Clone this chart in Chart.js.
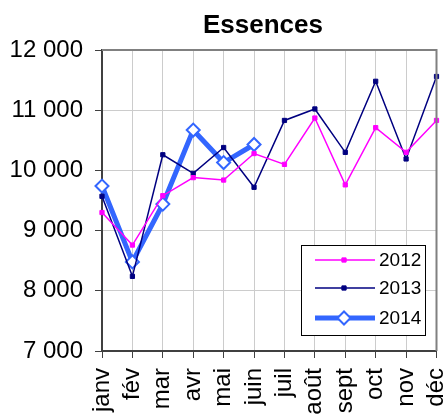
<!DOCTYPE html>
<html>
<head>
<meta charset="utf-8">
<script src="https://cdn.jsdelivr.net/npm/chart.js@4"></script>
<style>
  html, body { margin: 0; padding: 0; background: #fff; }
  canvas { display: block; }
</style>
</head>
<body>
<canvas id="essences" width="445" height="414"></canvas>
<script>
const months = ['janv', 'fév', 'mar', 'avr', 'mai', 'juin', 'juil', 'août', 'sept', 'oct', 'nov', 'déc'];
const values2012 = [9300, 8760, 9580, 9880, 9840, 10280, 10100, 10870, 9760, 10710, 10300, 10830];
const values2013 = [9570, 8240, 10260, 9950, 10380, 9720, 10830, 11020, 10300, 11480, 10190, 11560];
const values2014 = [9740, 8480, 9440, 10670, 10130, 10430];
const yTicks = [7000, 8000, 9000, 10000, 11000, 12000];

const FONT = "'Liberation Sans', Arial, sans-serif";

// title, plot frame and the boxed legend inside the plot
const decor = {
    id: 'decor',
    afterDraw(chart) {
        const ctx = chart.ctx;
        const area = chart.chartArea;
        ctx.save();

        ctx.fillStyle = '#000';
        ctx.font = 'bold 26px ' + FONT;
        ctx.textAlign = 'center';
        ctx.textBaseline = 'middle';
        ctx.fillText('Essences', 263, 26);

        ctx.strokeStyle = '#808080';
        ctx.lineWidth = 2;
        ctx.beginPath();
        ctx.moveTo(area.left, area.top);
        ctx.lineTo(area.right, area.top);
        ctx.lineTo(area.right, area.bottom);
        ctx.stroke();

        const box = { x: 301, y: 245, w: 124, h: 90 };
        ctx.fillStyle = '#fff';
        ctx.fillRect(box.x, box.y, box.w, box.h);
        ctx.strokeStyle = '#000';
        ctx.lineWidth = 1;
        ctx.strokeRect(box.x + 0.5, box.y + 0.5, box.w, box.h);

        const rows = [260, 288, 318];
        chart.data.datasets.forEach((ds, i) => {
            const y = rows[i];
            ctx.strokeStyle = ds.borderColor;
            ctx.lineWidth = ds.borderWidth;
            ctx.beginPath();
            ctx.moveTo(315, y);
            ctx.lineTo(375, y);
            ctx.stroke();
            ctx.fillStyle = ds.pointBackgroundColor;
            ctx.strokeStyle = ds.pointBorderColor;
            ctx.lineWidth = ds.pointBorderWidth;
            Chart.helpers.drawPoint(ctx, {
                pointStyle: ds.pointStyle,
                radius: ds.pointRadius,
                borderWidth: ds.pointBorderWidth
            }, 344, y);
            ctx.fillStyle = '#000';
            ctx.font = '19px ' + FONT;
            ctx.textAlign = 'left';
            ctx.textBaseline = 'middle';
            ctx.fillText(ds.label, 379, y + 1);
        });
        ctx.restore();
    }
};

new Chart(document.getElementById('essences'), {
    type: 'line',
    data: {
        labels: months,
        datasets: [{
            label: '2012',
            data: values2012,
            borderColor: '#ff00ff',
            borderWidth: 1.5,
            pointStyle: 'rect',
            pointRadius: 3,
            pointBorderWidth: 1,
            pointBackgroundColor: '#ff00ff',
            pointBorderColor: '#ff00ff',
            tension: 0
        }, {
            label: '2013',
            data: values2013,
            borderColor: '#000080',
            borderWidth: 1.5,
            pointStyle: 'rect',
            pointRadius: 3,
            pointBorderWidth: 1,
            pointBackgroundColor: '#000080',
            pointBorderColor: '#000080',
            tension: 0
        }, {
            label: '2014',
            data: values2014,
            borderColor: '#3366ff',
            borderWidth: 5,
            pointStyle: 'rectRot',
            pointRadius: 6.5,
            pointBorderWidth: 2,
            pointBackgroundColor: '#ffffff',
            pointBorderColor: '#3366ff',
            tension: 0
        }]
    },
    options: {
        responsive: false,
        animation: false,
        devicePixelRatio: 1,
        layout: { padding: { top: 50, right: 8, left: 0, bottom: 0 } },
        plugins: {
            legend: { display: false },
            title: { display: false },
            tooltip: { enabled: false }
        },
        scales: {
            x: {
                offset: false,
                afterFit: (scale) => {
                    scale.height = 63;
                    scale.paddingLeft = 0;
                    scale.paddingRight = 0;
                },
                grid: { color: '#cccccc', lineWidth: 1, tickColor: '#404040', tickLength: 7 },
                border: { color: '#404040', width: 2 },
                ticks: {
                    autoSkip: false,
                    minRotation: 90,
                    maxRotation: 90,
                    padding: 10,
                    color: '#000',
                    font: { family: FONT, size: 24 }
                }
            },
            y: {
                min: 7000,
                max: 12000,
                afterFit: (scale) => {
                    scale.width = 102;
                    scale.paddingTop = 0;
                    scale.paddingBottom = 0;
                },
                afterBuildTicks: (scale) => { scale.ticks = yTicks.map(v => ({ value: v })); },
                grid: { color: '#cccccc', lineWidth: 1, tickColor: '#404040', tickLength: 7 },
                border: { color: '#404040', width: 2 },
                ticks: {
                    padding: 12,
                    color: '#000',
                    font: { family: FONT, size: 24 },
                    callback: (v) => v.toLocaleString('fr-FR').replace(/\s/g, ' ')
                }
            }
        }
    },
    plugins: [decor]
});
</script>
</body>
</html>
